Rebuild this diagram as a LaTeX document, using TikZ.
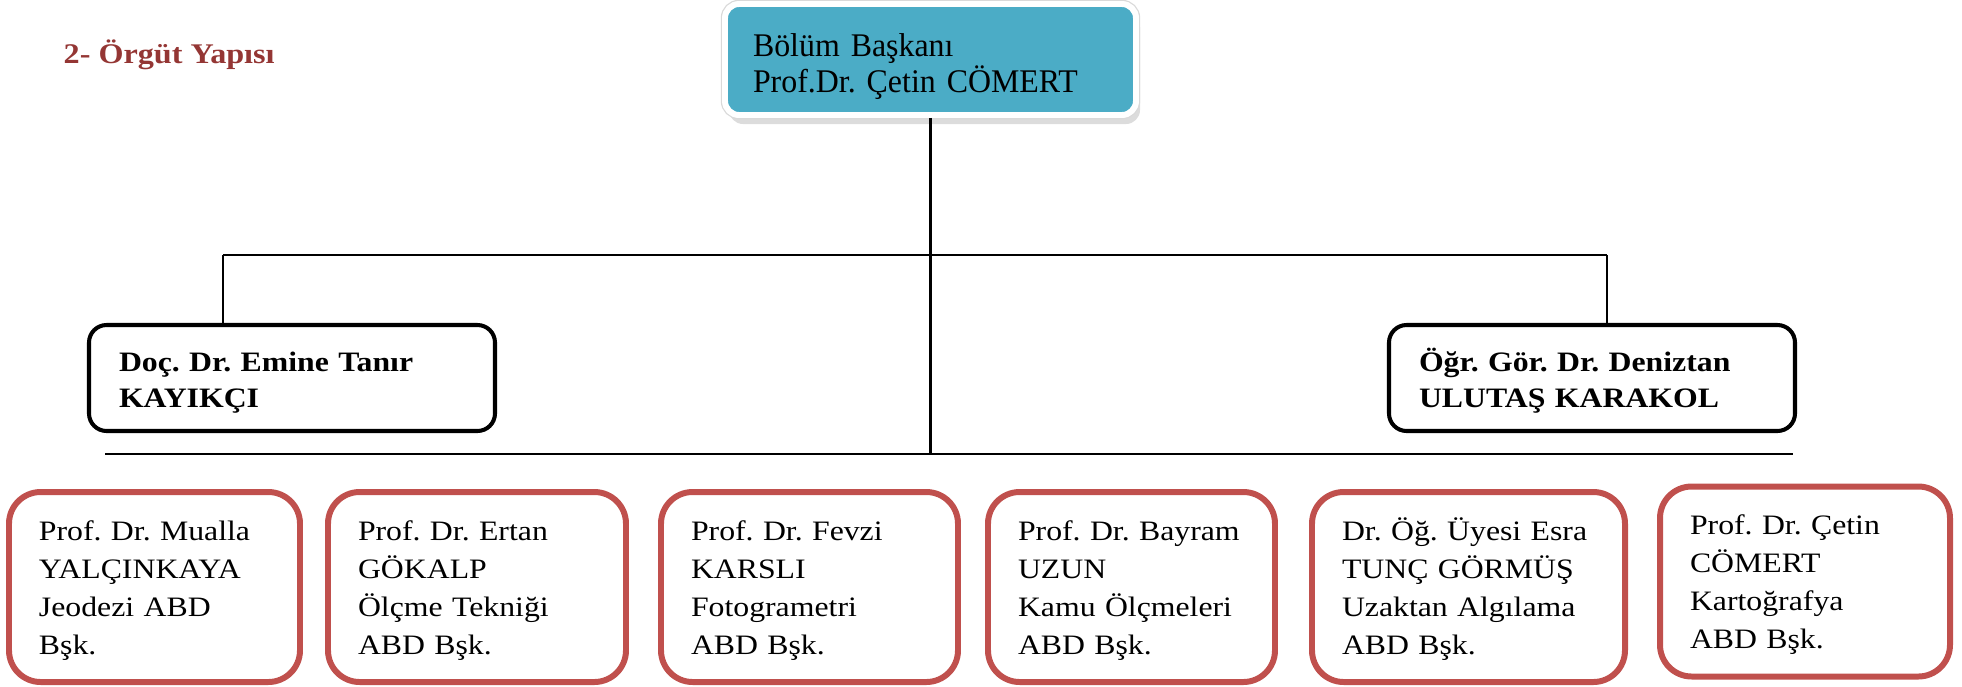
\documentclass[tikz,border=0pt]{standalone}
\usepackage{fontspec}
\setmainfont{Liberation Serif}[FakeStretch=1.13]
\newfontfamily\baskanfont{Liberation Serif}[FakeStretch=0.965]
\usetikzlibrary{shadows}
\usepackage{xcolor}
\definecolor{baskanmavi}{HTML}{4BACC6}
\definecolor{kutukirmizi}{HTML}{C0504D}
\definecolor{basliklar}{HTML}{943634}
\frenchspacing

\begin{document}
\begin{tikzpicture}[
      baskan/.style={fill=baskanmavi, draw=white, line width=1.7pt, rounded corners=4pt,
                     drop shadow={shadow xshift=0.04cm, shadow yshift=-0.09cm, fill=gray!55},
                     preaction={draw=gray!30, line width=2.4pt},
                     align=left, inner xsep=0.28cm, text width=3.55cm, minimum height=1.11cm,
                     font=\baskanfont\fontsize{9.4}{10.1}\selectfont,
                     execute at begin node={\rule{0pt}{10.5pt}}},
      yonetici/.style={draw, line width=1.15pt, rounded corners=5pt, align=left,
                       inner xsep=0.30cm, text width=3.46cm, minimum height=1.06cm,
                       font=\fontsize{8}{10.3}\selectfont\bfseries,
                       execute at begin node={\rule{0pt}{8.2pt}}},
      bolum/.style={draw=kutukirmizi, line width=1.7pt, rounded corners=9pt, align=left,
                    inner xsep=0.30cm, text width=#1, minimum height=1.90cm,
                    font=\fontsize{8}{10.8}\selectfont,
                    execute at begin node={\rule{0pt}{7.6pt}}},
      cizgi/.style={line width=0.8pt},
      baslikyazi/.style={text=basliklar, inner sep=0pt, font=\fontsize{8.1}{9.7}\selectfont\bfseries}
    ]
    \useasboundingbox (0,0) rectangle (19.62,-6.86);

    \node[baslikyazi, anchor=base west] (baslik) at (0.63,-0.63) {2- Örgüt Yapısı};
    \node[baskan]   (bb) at (9.305,-0.595) {Bölüm Başkanı\\ Prof.Dr. Çetin CÖMERT};

    \node[yonetici] (y1) at (2.92,-3.78)  {Doç. Dr. Emine Tanır\\ KAYIKÇI};
    \node[yonetici] (y2) at (15.92,-3.78) {Öğr. Gör. Dr. Deniztan\\ ULUTAŞ KARAKOL};

    \node[bolum=2.31cm] (b1) at (1.545,-5.87)  {Prof. Dr. Mualla\\ YALÇINKAYA\\ Jeodezi ABD\\ Bşk.};
    \node[bolum=2.38cm] (b2) at (4.77,-5.87)   {Prof. Dr. Ertan\\ GÖKALP\\ Ölçme Tekniği\\ ABD Bşk.};
    \node[bolum=2.37cm] (b3) at (8.095,-5.87)  {Prof. Dr. Fevzi\\ KARSLI\\ Fotogrametri\\ ABD Bşk.};
    \node[bolum=2.27cm] (b4) at (11.315,-5.87) {Prof. Dr. Bayram\\ UZUN\\ Kamu Ölçmeleri\\ ABD Bşk.};
    \node[bolum=2.53cm] (b5) at (14.685,-5.87) {Dr. Öğ. Üyesi Esra\\ TUNÇ GÖRMÜŞ\\ Uzaktan Algılama\\ ABD Bşk.};
    \node[bolum=2.30cm] (b6) at (18.05,-5.815) {Prof. Dr. Çetin\\ CÖMERT\\ Kartoğrafya\\ ABD Bşk.};

    \coordinate (kolsol) at (2.23,-2.55);
    \coordinate (kolsag) at (16.07,-2.55);
    \coordinate (altsol) at (1.05,-4.54);
    \coordinate (altsag) at (17.93,-4.54);

    \draw[cizgi] (bb.south) -- (bb.south |- altsol);
    \draw[cizgi] (kolsol) -- (kolsag);
    \draw[cizgi] (kolsol) -- (kolsol |- y1.north);
    \draw[cizgi] (kolsag) -- (kolsag |- y2.north);
    \draw[cizgi] (altsol) -- (altsag);
  \end{tikzpicture}
\end{document}
